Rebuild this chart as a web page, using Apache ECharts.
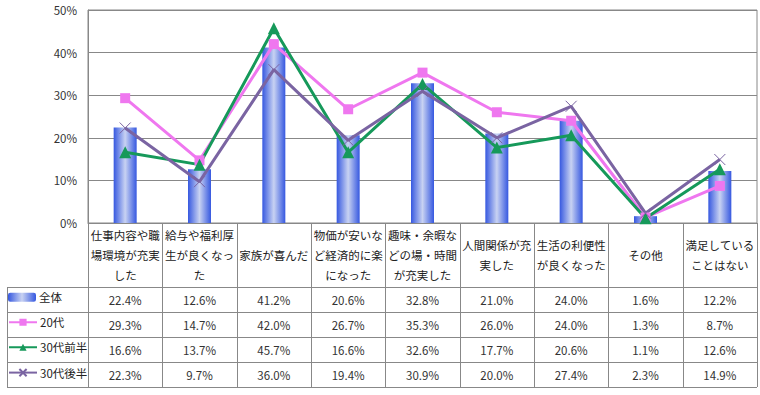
<!DOCTYPE html>
<html><head><meta charset="utf-8">
<script src="https://cdn.jsdelivr.net/npm/echarts@6/dist/echarts.min.js"></script>
<style>html,body{margin:0;padding:0;background:#fff}#c{width:760px;height:395px}</style>
</head><body><div id="c"></div>
<script>
const categories = ['仕事内容や職\n場環境が充実\nした','給与や福利厚\n生が良くなっ\nた','家族が喜んだ','物価が安いな\nど経済的に楽\nになった','趣味・余暇な\nどの場・時間\nが充実した','人間関係が充\n実した','生活の利便性\nが良くなった','その他','満足している\nことはない'];
const seriesNames = ['全体','20代','30代前半','30代後半'];
const allValues = [22.4,12.6,41.2,20.6,32.8,21.0,24.0,1.6,12.2];
const s20 = [29.3,14.7,42.0,26.7,35.3,26.0,24.0,1.3,8.7];
const s30a = [16.6,13.7,45.7,16.6,32.6,17.7,20.6,1.1,12.6];
const s30b = [22.3,9.7,36.0,19.4,30.9,20.0,27.4,2.3,14.9];
const yTicks = [0,10,20,30,40,50];

const FONT = '"Noto Sans CJK JP", sans-serif';
const gridL = 88, gridR = 757, gridT = 10, gridB = 223;
const rowTops = [287,312,337,362,387];
const tableLeft = 7;
const lineColor = '#888';
const colW = (gridR - gridL) / categories.length;

const chart = echarts.init(document.getElementById('c'), null, {renderer:'svg'});
const barGrad = new echarts.graphic.LinearGradient(0,0,1,0,[
  {offset:0,color:'#3658e0'},{offset:0.5,color:'#c8d2f2'},{offset:1,color:'#3658e0'}]);

const graphics = [];
const rows = [allValues, s20, s30a, s30b];
rowTops.forEach(y => graphics.push({type:'line', shape:{x1:tableLeft,y1:y+0.5,x2:gridR,y2:y+0.5}, style:{stroke:lineColor,lineWidth:1}, silent:true}));
for (let k = 0; k <= categories.length; k++) {
  const x = Math.round(gridL + k*colW) + 0.5;
  graphics.push({type:'line', shape:{x1:x,y1:gridB,x2:x,y2:rowTops[rowTops.length-1]}, style:{stroke:lineColor,lineWidth:1}, silent:true});
}
graphics.push({type:'line', shape:{x1:tableLeft+0.5,y1:rowTops[0],x2:tableLeft+0.5,y2:rowTops[rowTops.length-1]}, style:{stroke:lineColor,lineWidth:1}, silent:true});
rows.forEach((vals, r) => {
  const cy = (rowTops[r] + rowTops[r+1]) / 2;
  vals.forEach((v, i) => {
    graphics.push({type:'text', x: gridL + (i+0.5)*colW, y: cy,
      style:{text: v.toFixed(1) + '%', fill:'#333', font:'11.5px ' + FONT, align:'center', verticalAlign:'middle'}, silent:true});
  });
});

const xSymbol = 'path://M0,0L10,10M10,0L0,10';

const legends = seriesNames.map((n, r) => ({
  orient:'horizontal', left:8, top:(rowTops[r]+rowTops[r+1])/2 - 8, height:16,
  itemWidth:28, itemHeight:9, padding:0,
  textStyle:{fontSize:11.5, color:'#222', fontFamily:FONT, padding:[0,0,0,-2]},
  data:[n]
}));

chart.setOption({
  animation:false,
  textStyle:{fontFamily:FONT},
  grid:{left:gridL, right:760-gridR, top:gridT, bottom:395-gridB, show:true, borderColor:lineColor, borderWidth:1},
  legend:legends,
  xAxis:{type:'category', data:categories, axisTick:{show:false},
    axisLine:{lineStyle:{color:lineColor}},
    axisLabel:{interval:0, fontSize:11.5, color:'#222', lineHeight:20, verticalAlign:'middle', margin:32, fontFamily:FONT}},
  yAxis:{type:'value', min:yTicks[0], max:yTicks[yTicks.length-1], interval:10,
    axisLabel:{formatter:'{value}%', fontSize:11.5, color:'#333', margin:11, fontFamily:FONT},
    axisLine:{show:true, lineStyle:{color:lineColor}},
    splitLine:{lineStyle:{color:lineColor}}},
  series:[
    {name:seriesNames[0], type:'bar', data:allValues, barWidth:23, itemStyle:{color:barGrad}},
    {name:seriesNames[1], type:'line', data:s20, symbol:'rect', symbolSize:10, lineStyle:{width:3,color:'#ef77ef'}, itemStyle:{color:'#ef77ef'}},
    {name:seriesNames[2], type:'line', data:s30a, symbol:'triangle', symbolSize:12, lineStyle:{width:3,color:'#16995a'}, itemStyle:{color:'#16995a'}},
    {name:seriesNames[3], type:'line', data:s30b, symbol:xSymbol, symbolSize:11, lineStyle:{width:3,color:'#7a64a2'}, itemStyle:{color:'none', borderColor:'#7a64a2', borderWidth:1}}
  ],
  graphic: graphics
});
</script></body></html>
